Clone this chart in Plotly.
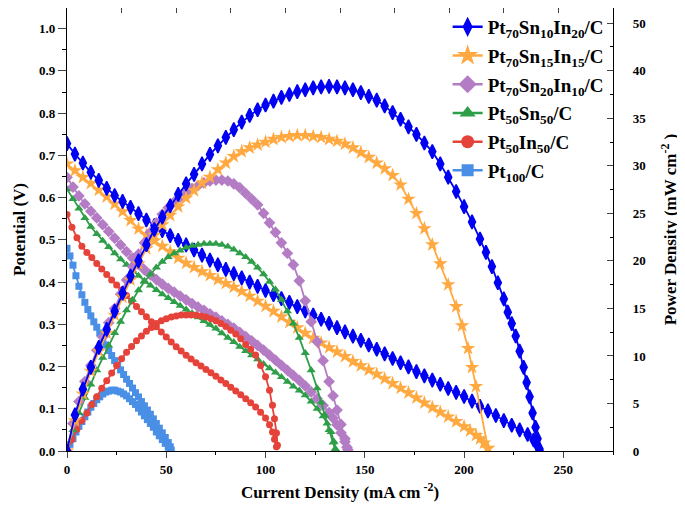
import plotly.graph_objects as go

# ---------------- data ----------------
series_names = [
    "Pt<sub>70</sub>Sn<sub>10</sub>In<sub>20</sub>/C",
    "Pt<sub>70</sub>Sn<sub>15</sub>In<sub>15</sub>/C",
    "Pt<sub>70</sub>Sn<sub>20</sub>In<sub>10</sub>/C",
    "Pt<sub>50</sub>Sn<sub>50</sub>/C",
    "Pt<sub>50</sub>In<sub>50</sub>/C",
    "Pt<sub>100</sub>/C",
]

# (current density mA cm-2, potential V)
blue_polarization = [(0,0.728),(4,0.703),(8,0.682),(12,0.660),(16,0.641),(20,0.622),(24,0.605),(28,0.591),(32,0.577),(36,0.562),(40,0.547),(44,0.534),(48,0.522),(52,0.510),(56,0.499),(60,0.488),(64,0.476),(68,0.464),(72,0.452),(76,0.441),(80,0.430),(84,0.420),(88,0.410),(92,0.400),(96,0.390),(100,0.380),(104,0.370),(108,0.361),(112,0.352),(116,0.342),(120,0.332),(124,0.322),(128,0.312),(132,0.302),(136,0.292),(140,0.282),(144,0.272),(148,0.262),(152,0.251),(156,0.241),(160,0.230),(164,0.219),(168,0.209),(172,0.199),(176,0.188),(180,0.178),(184,0.168),(188,0.158),(192,0.148),(196,0.139),(200,0.129),(204,0.118),(208,0.106),(212,0.095),(216,0.084),(220,0.072),(224,0.061),(228,0.050),(232,0.039),(235,0.026),(237,0.012),(238,0.0)]
# (current density mA cm-2, power density mW cm-2)
blue_power = [(0,0),(4,3.8),(8,6.5),(12,8.8),(16,10.9),(20,12.8),(24,14.7),(28,16.6),(32,18.4),(36,20.0),(40,21.7),(44,23.3),(48,24.6),(52,25.8),(56,27.0),(60,28.1),(64,29.1),(68,30.2),(72,31.2),(76,32.1),(80,33.0),(84,33.8),(88,34.6),(92,35.3),(96,35.9),(100,36.4),(104,36.8),(108,37.2),(112,37.5),(116,37.8),(120,38.0),(124,38.2),(128,38.3),(132,38.35),(136,38.3),(140,38.2),(144,38.0),(148,37.7),(152,37.3),(156,36.9),(160,36.3),(164,35.6),(168,34.9),(172,34.1),(176,33.3),(180,32.4),(184,31.5),(188,30.2),(192,28.8),(196,27.3),(200,25.7),(204,24.1),(208,22.3),(211,20.9),(214,19.4),(217,17.7),(220,16.0),(222,14.6),(224,13.4),(226,12.1),(228,10.5),(230,8.8),(231.5,7.2),(233,5.7),(234.5,4.0),(236,2.5),(237,1.3),(238,0.2)]

orange_polarization = [(0,0.680),(4,0.664),(8,0.648),(12,0.634),(16,0.618),(20,0.602),(24,0.585),(28,0.567),(32,0.546),(36,0.526),(40,0.511),(44,0.498),(48,0.485),(52,0.472),(56,0.457),(60,0.445),(64,0.435),(68,0.425),(72,0.416),(76,0.406),(80,0.397),(84,0.388),(88,0.378),(92,0.367),(96,0.355),(100,0.343),(104,0.331),(108,0.318),(112,0.305),(116,0.292),(120,0.279),(124,0.267),(128,0.256),(132,0.245),(136,0.235),(140,0.224),(144,0.212),(148,0.202),(152,0.192),(156,0.182),(160,0.171),(164,0.160),(168,0.149),(172,0.138),(176,0.126),(180,0.114),(184,0.103),(188,0.092),(192,0.081),(196,0.070),(200,0.058),(203,0.048),(206,0.037),(208,0.029),(210,0.019),(212,0.006)]
orange_power = [(0,0),(4,3.2),(8,6.0),(12,8.4),(16,10.5),(20,12.4),(24,14.3),(28,16.2),(32,18.0),(36,19.7),(40,21.3),(44,22.7),(48,23.8),(52,24.8),(56,25.7),(60,26.6),(64,27.4),(68,28.2),(72,28.8),(76,29.6),(80,30.3),(84,31.0),(88,31.5),(92,31.9),(96,32.2),(100,32.5),(104,32.8),(108,33.0),(112,33.1),(116,33.2),(120,33.2),(124,33.1),(128,33.0),(132,32.8),(136,32.6),(140,32.3),(144,31.9),(148,31.4),(152,30.9),(156,30.3),(160,29.7),(164,29.0),(168,28.0),(172,26.5),(176,25.0),(180,23.4),(184,21.7),(188,19.7),(192,17.5),(196,15.2),(199,13.2),(202,10.8),(204,8.8),(206,6.8),(212,0.3)]

purple_polarization = [(0,0.648),(3,0.625),(6,0.604),(9,0.585),(12,0.568),(15,0.552),(18,0.536),(21,0.520),(24,0.504),(27,0.488),(30,0.472),(33,0.457),(36,0.442),(39,0.429),(42,0.417),(45,0.406),(48,0.395),(51,0.385),(54,0.376),(57,0.367),(60,0.358),(63,0.349),(66,0.341),(69,0.333),(72,0.325),(75,0.317),(78,0.308),(81,0.300),(84,0.291),(87,0.281),(90,0.271),(93,0.261),(96,0.250),(99,0.239),(102,0.227),(105,0.215),(108,0.203),(111,0.191),(114,0.179),(117,0.167),(120,0.154),(123,0.140),(126,0.124),(129,0.108),(132,0.091),(134,0.078),(136,0.062),(138,0.043),(140,0.022),(141.5,0.003)]
purple_power = [(0,0),(3,2.9),(6,5.2),(9,7.3),(12,9.0),(15,10.6),(18,12.0),(21,13.5),(24,15.0),(27,16.5),(30,18.0),(33,19.4),(36,20.7),(39,21.9),(42,23.0),(45,24.0),(48,24.9),(51,25.6),(54,26.2),(57,26.7),(60,27.2),(63,27.6),(66,27.9),(69,28.2),(72,28.4),(75,28.5),(78,28.5),(81,28.4),(84,28.1),(87,27.7),(90,27.1),(93,26.5),(96,25.9),(99,25.0),(102,24.0),(105,23.0),(108,21.9),(111,20.8),(114,19.6),(117,17.9),(120,15.8),(123,13.6),(126,11.5),(129,9.5),(132,7.3),(134,5.8),(136,4.3),(138,2.8),(140,1.3),(141,0.4)]

green_polarization = [(0,0.620),(3,0.597),(6,0.574),(9,0.552),(12,0.531),(15,0.514),(18,0.498),(21,0.483),(24,0.468),(27,0.454),(30,0.441),(33,0.428),(36,0.415),(39,0.403),(42,0.392),(45,0.381),(48,0.371),(51,0.362),(54,0.353),(57,0.344),(60,0.335),(63,0.326),(66,0.317),(69,0.308),(72,0.299),(75,0.290),(78,0.279),(81,0.268),(84,0.258),(87,0.247),(90,0.237),(93,0.227),(96,0.217),(99,0.206),(102,0.196),(105,0.186),(108,0.175),(111,0.164),(114,0.153),(117,0.143),(120,0.132),(123,0.117),(126,0.100),(129,0.082),(131,0.065),(133,0.045),(134.5,0.022),(135.5,0.003)]
green_power = [(0,0),(3,2.2),(6,4.0),(9,5.6),(12,7.0),(15,8.5),(18,9.8),(21,11.1),(24,12.4),(27,13.6),(30,14.8),(33,15.9),(36,16.9),(39,17.8),(42,18.6),(45,19.3),(48,19.9),(51,20.4),(54,20.8),(57,21.1),(60,21.4),(63,21.6),(66,21.7),(69,21.8),(72,21.8),(75,21.8),(78,21.7),(81,21.5),(84,21.2),(87,20.8),(90,20.4),(93,19.9),(96,19.3),(99,18.6),(102,17.8),(105,17.0),(108,15.9),(111,14.7),(114,13.4),(117,11.9),(120,10.3),(123,8.5),(126,6.6),(128,5.1),(130,3.7),(132,2.2),(134,0.9),(135,0.2)]

red_polarization = [(0,0.560),(2.5,0.530),(5,0.505),(7.5,0.485),(10,0.470),(12.5,0.458),(15,0.444),(17.5,0.431),(20,0.418),(22.5,0.405),(25,0.393),(27.5,0.381),(30,0.368),(32.5,0.355),(35,0.342),(37.5,0.330),(40,0.318),(42.5,0.306),(45,0.294),(47.5,0.282),(50,0.270),(52.5,0.258),(55,0.247),(57.5,0.237),(60,0.227),(62.5,0.218),(65,0.209),(67.5,0.201),(70,0.193),(72.5,0.185),(75,0.177),(77.5,0.168),(80,0.160),(82.5,0.151),(85,0.142),(87.5,0.133),(90,0.124),(92.5,0.114),(95,0.104),(97.5,0.092),(100,0.078),(102,0.062),(103.5,0.045),(104.5,0.028),(105.5,0.010)]
red_power = [(0,0),(2.5,1.2),(5,2.3),(7.5,3.2),(10,4.0),(12.5,4.9),(15,5.7),(17.5,6.6),(20,7.4),(22.5,8.2),(25,9.0),(27.5,9.7),(30,10.4),(32.5,11.0),(35,11.6),(37.5,12.1),(40,12.6),(42.5,13.0),(45,13.4),(47.5,13.7),(50,13.9),(52.5,14.1),(55,14.2),(57.5,14.3),(60,14.3),(62.5,14.3),(65,14.3),(67.5,14.2),(70,14.1),(72.5,13.9),(75,13.7),(77.5,13.4),(80,13.1),(82.5,12.7),(85,12.3),(87.5,11.8),(90,11.2),(92.5,10.7),(95,10.1),(97.5,9.0),(100,7.8),(102,6.4),(103.5,4.8),(104.5,3.4),(105.5,1.9),(106,0.6)]

lightblue_polarization = [(0,0.480),(1.5,0.462),(3,0.440),(4.5,0.415),(6,0.390),(7.5,0.370),(9,0.352),(10.5,0.335),(12,0.320),(13.5,0.306),(15,0.293),(16.5,0.279),(18,0.265),(19.5,0.251),(21,0.238),(22.5,0.226),(24,0.214),(25.5,0.203),(27,0.192),(28.5,0.181),(30,0.170),(31.5,0.160),(33,0.149),(34.5,0.138),(36,0.128),(37.5,0.117),(39,0.107),(40.5,0.097),(42,0.087),(43.5,0.076),(45,0.065),(46.5,0.054),(48,0.043),(49.5,0.032),(51,0.020),(52,0.010),(52.5,0.002)]
lightblue_power = [(0,0),(1.5,0.7),(3,1.3),(4.5,2.0),(6,2.6),(7.5,3.1),(9,3.6),(10.5,4.1),(12,4.6),(13.5,5.0),(15,5.4),(16.5,5.7),(18,6.0),(19.5,6.2),(21,6.3),(22.5,6.4),(24,6.4),(25.5,6.3),(27,6.2),(28.5,6.0),(30,5.8),(31.5,5.5),(33,5.2),(34.5,4.9),(36,4.5),(37.5,4.1),(39,3.7),(40.5,3.3),(42,2.9),(43.5,2.5),(45,2.0),(46.5,1.6),(48,1.2),(49.5,0.8),(51,0.4),(52,0.1)]

x_tick_values = [0, 50, 100, 150, 200, 250]
y_tick_values = [0.0, 0.1, 0.2, 0.3, 0.4, 0.5, 0.6, 0.7, 0.8, 0.9, 1.0]
y2_tick_values = [0, 5, 10, 15, 20, 25, 30, 35, 40, 45]
y2_tick_labels = ["0", "5", "10", "15", "20", "25", "30", "35", "40", "50"]

# ---------------- styling ----------------
colors = ["#0000F2", "#FFA940", "#B37CC4", "#2E9E48", "#E5433A", "#4A8FE6"]
symbols = ["diamond-tall", "star", "diamond", "triangle-up", "circle", "square"]
sizes = [10, 11, 9, 8, 7, 7]
legend_sizes = [12, 17, 14, 14, 13, 12]
pol_data = [blue_polarization, orange_polarization, purple_polarization,
            green_polarization, red_polarization, lightblue_polarization]
pow_data = [blue_power, orange_power, purple_power,
            green_power, red_power, lightblue_power]

FONT = "Liberation Serif"
fig = go.Figure()

# legend-only entries (empty)
for i in range(6):
    fig.add_trace(go.Scatter(
        x=[None], y=[None], mode="lines+markers", name=series_names[i],
        legendgroup="g%d" % i,
        line=dict(color=colors[i], width=2.5),
        marker=dict(symbol=symbols[i], size=legend_sizes[i], color=colors[i],
                    line=dict(color=colors[i], width=1.5 if i == 0 else 0)),
        xaxis="x2", yaxis="y", showlegend=True, hoverinfo="skip"))

# real curves, drawn so that the first series ends on top
for i in reversed(range(6)):
    mline = dict(color=colors[i], width=1.5 if i == 0 else 0)
    xi = [p[0] for p in pol_data[i]]
    yi = [p[1] for p in pol_data[i]]
    fig.add_trace(go.Scatter(
        x=xi, y=yi, mode="lines+markers", showlegend=False,
        line=dict(color=colors[i], width=1.8),
        marker=dict(symbol=symbols[i], size=sizes[i], color=colors[i], line=mline),
        xaxis="x", yaxis="y"))
    xp = [p[0] for p in pow_data[i]]
    yp = [p[1] for p in pow_data[i]]
    fig.add_trace(go.Scatter(
        x=xp, y=yp, mode="lines+markers", showlegend=False,
        line=dict(color=colors[i], width=1.8),
        marker=dict(symbol=symbols[i], size=sizes[i], color=colors[i], line=mline),
        xaxis="x", yaxis="y2"))

tickfont = dict(family=FONT, size=13, color="black", weight="bold")
titlefont = dict(family=FONT, size=17, color="black", weight="bold")

# the page adds an 8 px body margin, so the figure is 8 px smaller each way
fig.update_layout(
    width=677, height=502,
    margin=dict(l=59, r=72, t=0, b=59),
    paper_bgcolor="white", plot_bgcolor="white",
    showlegend=True,
    legend=dict(x=0.992, xanchor="right", y=1.0, yanchor="top",
                traceorder="grouped", tracegroupgap=1,
                bgcolor="rgba(0,0,0,0)", font=dict(family=FONT, size=19, color="black", weight="bold"),
                itemwidth=30, borderwidth=0),
    xaxis=dict(range=[0, 275], tickvals=x_tick_values, ticks="outside", ticklen=6,
               tickwidth=1.3, showline=True, linecolor="black", linewidth=1.3,
               showgrid=False, zeroline=False, tickfont=tickfont, automargin=False,
               minor=dict(dtick=25, tick0=0, ticks="outside", ticklen=3, tickcolor="black"),
               title=dict(text="Current Density (mA cm<sup> -2</sup>)", font=titlefont, standoff=10)),
    xaxis2=dict(range=[0, 250], overlaying="x", side="top", dtick=25, tick0=0,
                ticks="inside", ticklen=5, tickwidth=1.3, showline=True, linecolor="black",
                linewidth=1.3, showticklabels=False, showgrid=False, zeroline=False, automargin=False),
    yaxis=dict(range=[0, 1.049], tickvals=y_tick_values, tickformat=".1f", ticks="outside",
               ticklen=8, tickwidth=1.3, showline=True, linecolor="black", linewidth=1.3,
               showgrid=False, zeroline=False, tickfont=tickfont, automargin=False,
               minor=dict(dtick=0.05, tick0=0, ticks="outside", ticklen=4, tickcolor="black"),
               title=dict(text="Potential (V)", font=titlefont, standoff=9)),
    yaxis2=dict(range=[0, 46.6], overlaying="y", side="right", tickvals=y2_tick_values,
                ticktext=y2_tick_labels, ticks="inside", ticklen=6, tickwidth=1.3,
                showline=True, linecolor="black", linewidth=1.3, showgrid=False,
                zeroline=False, tickfont=tickfont, ticklabelstandoff=16, automargin=False,
                minor=dict(tickmode="linear", dtick=2.5, tick0=0, ticks="inside", ticklen=3, tickcolor="black"),
                title=dict(text="Power Density (mW cm<sup>-2</sup> )", font=titlefont, standoff=18)),
)

fig.write_html("out.html")
